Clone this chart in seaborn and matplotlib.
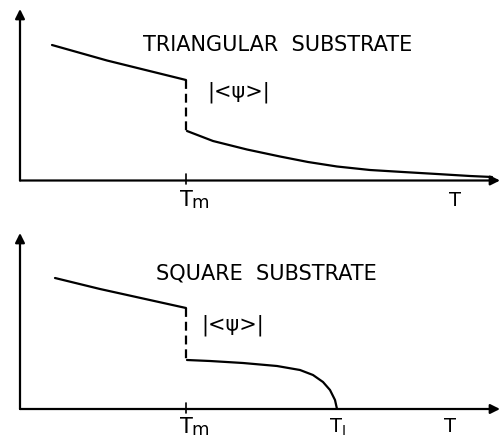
import matplotlib
matplotlib.use("Agg")
import matplotlib.pyplot as plt
import seaborn as sns

sns.set_style("white")
plt.rcParams["font.family"] = ["DejaVu Sans"]
plt.rcParams["text.color"] = "black"

# Order parameter |<psi>| versus temperature T (arbitrary units)
T_MELT = 166
T_I = 317

# Triangular substrate
tri_solid_T = [32, 87, 166]
tri_solid_psi = [135.5, 120, 100.5]
tri_liquid_T = [167, 193, 227, 260, 288, 317, 350, 383, 417, 450, 472]
tri_liquid_psi = [49.5, 39.5, 31, 24, 18.5, 14, 10.5, 8.5, 6.5, 4.5, 3.5]

# Square substrate
sq_solid_T = [35, 80, 166]
sq_solid_psi = [131, 120, 101]
sq_liquid_T = [167, 190, 223, 257, 280, 293, 303, 310, 315, 317]
sq_liquid_psi = [49, 48, 46, 43, 39, 34, 27, 19, 9, 0]

LW = 1.6
fig = plt.figure(figsize=(4.99, 4.40), dpi=100)
ax_top = fig.add_axes([20 / 499, 1 - 180.5 / 440, 480 / 499, 171.5 / 440])
ax_bot = fig.add_axes([20 / 499, 1 - 409 / 440, 480 / 499, 176 / 440])


def draw_panel(ax, ymax, solid_T, solid_psi, liq_T, liq_psi, title, title_xy, psi_xy):
    ax.set_xlim(0, 480)
    ax.set_ylim(0, ymax)
    ax.axis("off")
    # axes with arrow heads
    for end in [(1, 0), (0, 1)]:
        ax.annotate("", xy=end, xytext=(0, 0), xycoords="axes fraction",
                    arrowprops=dict(arrowstyle="-|>", lw=LW, color="black",
                                    mutation_scale=14, shrinkA=0, shrinkB=0),
                    annotation_clip=False)
    sns.lineplot(x=solid_T, y=solid_psi, ax=ax, color="black", lw=LW,
                 estimator=None, sort=False)
    sns.lineplot(x=liq_T, y=liq_psi, ax=ax, color="black", lw=LW,
                 estimator=None, sort=False)
    # discontinuity at the melting temperature
    ax.plot([T_MELT, T_MELT], [solid_psi[-1], liq_psi[0]], color="black",
            lw=LW, dashes=(4, 2.2))
    # tick at T_m
    ax.plot([T_MELT, T_MELT], [-4, 6], color="black", lw=1.2, clip_on=False)
    ax.text(*title_xy, title, ha="center", va="center", fontsize=15)
    ax.text(*psi_xy, "|<\u03c8>|", ha="center", va="center", fontsize=15)


def tm_label(ax, y):
    ax.text(T_MELT, y, "T", ha="center", va="top", fontsize=15, clip_on=False)
    ax.text(T_MELT + 5, y - 4, "m", ha="left", va="top", fontsize=13,
            clip_on=False)


draw_panel(ax_top, 171.5, tri_solid_T, tri_solid_psi, tri_liquid_T, tri_liquid_psi,
           "TRIANGULAR  SUBSTRATE", (258, 135.5), (218.5, 88))
tm_label(ax_top, -10)
ax_top.text(435, -11, "T", ha="center", va="top", fontsize=14, clip_on=False)

draw_panel(ax_bot, 176, sq_solid_T, sq_solid_psi, sq_liquid_T, sq_liquid_psi,
           "SQUARE  SUBSTRATE", (246, 135), (213, 84))
tm_label(ax_bot, -7.5)
ax_bot.text(T_I, -8, r"T$_\mathrm{I}$", ha="center", va="top", fontsize=14,
            clip_on=False)
ax_bot.text(430, -8, "T", ha="center", va="top", fontsize=14, clip_on=False)

fig.savefig("out.png", dpi=100)
